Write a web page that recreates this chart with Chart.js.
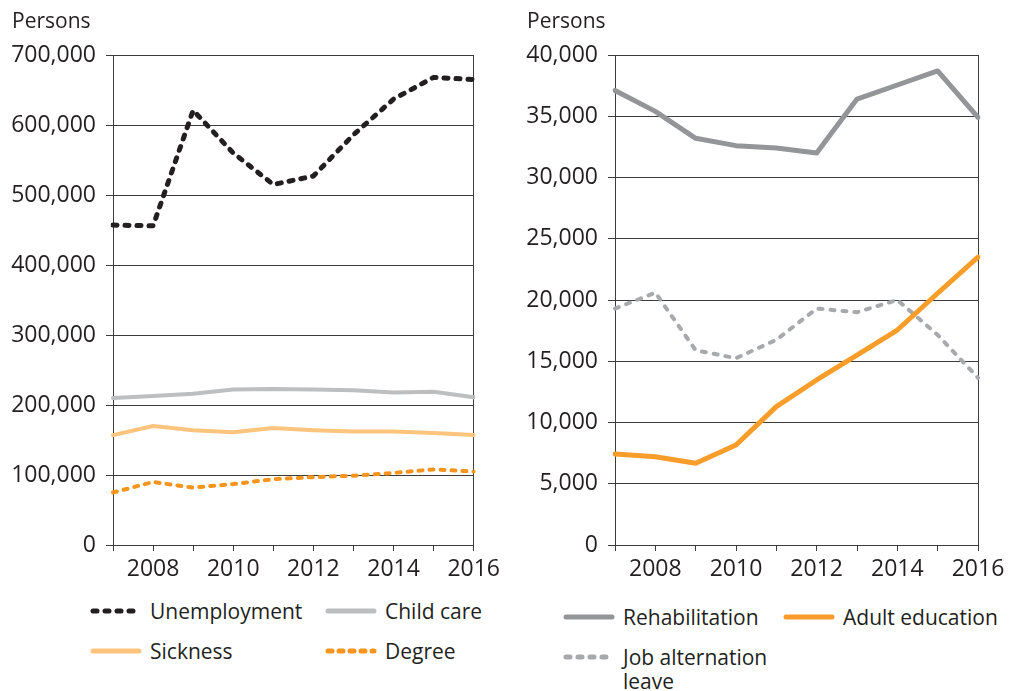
<!DOCTYPE html>
<html>
<head>
<meta charset="utf-8">
<script src="https://cdn.jsdelivr.net/npm/chart.js@4.4.1/dist/chart.umd.min.js"></script>
<style>
body { margin: 0; background: #fff; font-family: "Open Sans", sans-serif; color: #231f20; }
#page { position: relative; width: 1011px; height: 691px; overflow: hidden; }
.unit { position: absolute; top: 6px; font-size: 21px; }
.leg { position: absolute; display: flex; align-items: flex-start; font-size: 21px; line-height: 24px; }
.leg svg { margin-top: 8px; margin-right: 8px; flex: none; }
canvas { position: absolute; top: 0; }
</style>
</head>
<body>
<div id="page">
  <canvas id="leftChart" width="505" height="590" style="left:0"></canvas>
  <canvas id="rightChart" width="506" height="590" style="left:505px"></canvas>
  <div class="unit" style="left:12px">Persons</div>
  <div class="unit" style="left:527px">Persons</div>
</div>
<script>
var years = [2007, 2008, 2009, 2010, 2011, 2012, 2013, 2014, 2015, 2016];

var unemployment = [457000, 456000, 621000, 560000, 515000, 527000, 586000, 637000, 668000, 665000];
var childCare = [210000, 213000, 216000, 222000, 223000, 222000, 221000, 218000, 219000, 211000];
var sickness = [157000, 170000, 164000, 161000, 167000, 164000, 162000, 162000, 160000, 157000];
var degree = [75000, 90000, 82000, 87000, 94000, 97000, 99000, 103000, 108000, 105000];

var rehabilitation = [37100, 35400, 33200, 32600, 32400, 32000, 36400, 37550, 38700, 34900];
var adultEducation = [7430, 7210, 6670, 8160, 11300, 13470, 15500, 17550, 20550, 23500];
var jobAlternation = [19300, 20600, 15900, 15250, 16750, 19300, 19000, 20000, 17150, 13650];

var leftTicks = [0, 100000, 200000, 300000, 400000, 500000, 600000, 700000];
var rightTicks = [0, 5000, 10000, 15000, 20000, 25000, 30000, 35000, 40000];

var ink = '#231f20';
var gridInk = '#3c3c3c';
var fontSpec = { family: '"Open Sans", sans-serif', size: 23 };

function series(label, data, color, width, dash) {
    return {
        label: label,
        data: data,
        borderColor: color,
        backgroundColor: color,
        borderWidth: width,
        borderDash: dash || [],
        borderCapStyle: 'round',
        borderJoinStyle: 'round',
        pointRadius: 0,
        tension: 0,
        fill: false
    };
}

function makeChart(id, datasets, maxVal, step, yWidth, padRight) {
    var ctx = document.getElementById(id).getContext('2d');
    return new Chart(ctx, {
        type: 'line',
        data: { labels: years, datasets: datasets },
        options: {
            responsive: false,
            animation: false,
            layout: { padding: { top: 55, right: padRight, bottom: 0, left: 0 } },
            plugins: { legend: { display: false }, tooltip: { enabled: false } },
            scales: {
                x: {
                    offset: false,
                    grid: {
                        color: function (c) {
                            return (c.index === 0 || c.index === years.length - 1) ? gridInk : 'rgba(0,0,0,0)';
                        },
                        tickColor: gridInk,
                        tickLength: 6,
                        lineWidth: 1
                    },
                    border: { color: gridInk, width: 1 },
                    ticks: {
                        autoSkip: false,
                        maxRotation: 0,
                        padding: 5,
                        color: ink,
                        font: fontSpec,
                        callback: function (v, i) {
                            return years[i] % 2 === 0 ? String(years[i]) : '';
                        }
                    },
                    afterFit: function (s) { s.height = 45; }
                },
                y: {
                    min: 0,
                    max: maxVal,
                    grid: { color: gridInk, tickColor: gridInk, tickLength: 7, lineWidth: 1 },
                    border: { color: gridInk, width: 1 },
                    ticks: {
                        stepSize: step,
                        padding: 10,
                        color: ink,
                        font: fontSpec,
                        callback: function (v) { return v.toLocaleString('en-US'); }
                    },
                    afterFit: function (s) { s.width = yWidth; }
                }
            }
        }
    });
}

var leftSets = [
    series('Unemployment', unemployment, '#231f20', 5, [4, 8]),
    series('Child care', childCare, '#bcbec0', 4),
    series('Sickness', sickness, '#fdc47d', 4),
    series('Degree', degree, '#f7941d', 4, [4, 7])
];
var rightSets = [
    series('Rehabilitation', rehabilitation, '#939598', 5),
    series('Adult education', adultEducation, '#f99d2a', 5),
    series('Job alternation leave', jobAlternation, '#a7a9ac', 4, [4, 8])
];

makeChart('leftChart', leftSets, leftTicks[leftTicks.length - 1], leftTicks[1], 113, 30);
makeChart('rightChart', rightSets, rightTicks[rightTicks.length - 1], rightTicks[1], 110, 33);

// html legend, built from the datasets
function legendItem(ds, x, y, text) {
    var div = document.createElement('div');
    div.className = 'leg';
    div.style.left = x + 'px';
    div.style.top = y + 'px';
    var dash = ds.borderDash.length ? ' stroke-dasharray="' + ds.borderDash.join(' ') + '"' : '';
    div.innerHTML = '<svg width="52" height="8"><line x1="3" y1="4" x2="49" y2="4" stroke="' + ds.borderColor +
        '" stroke-width="5" stroke-linecap="round"' + dash + '/></svg><span>' + text + '</span>';
    document.getElementById('page').appendChild(div);
}

legendItem(leftSets[0], 90, 599, 'Unemployment');
legendItem(leftSets[1], 325, 599, 'Child care');
legendItem(leftSets[2], 90, 639, 'Sickness');
legendItem(leftSets[3], 325, 639, 'Degree');
legendItem(rightSets[0], 563, 605, 'Rehabilitation');
legendItem(rightSets[1], 783, 605, 'Adult education');
legendItem(rightSets[2], 563, 645, 'Job alternation<br>leave');
</script>
</body>
</html>
